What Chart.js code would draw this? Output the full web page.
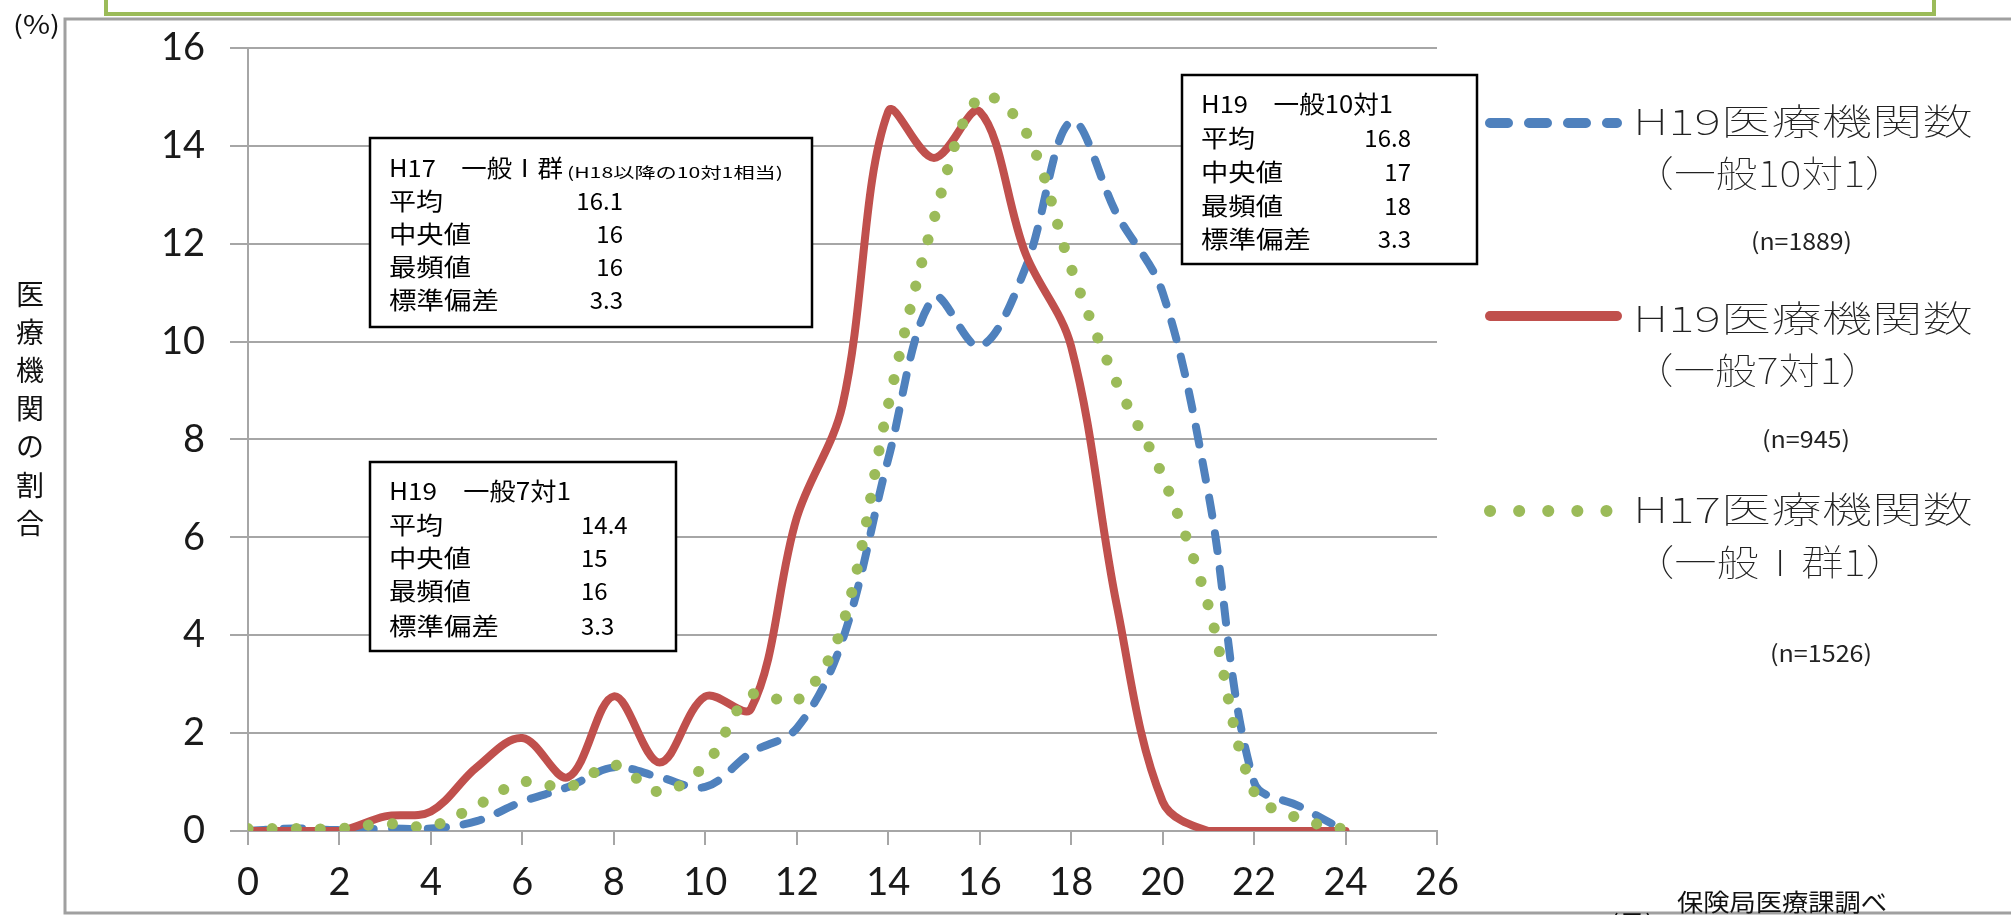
<!DOCTYPE html>
<html>
<head>
<meta charset="utf-8">
<script src="https://cdn.jsdelivr.net/npm/chart.js@4.4.0/dist/chart.umd.min.js"></script>
<style>
  html, body { margin: 0; padding: 0; background: #fff; }
  #wrap { position: relative; width: 2011px; height: 915px; }
</style>
</head>
<body>
<div id="wrap"><canvas id="chart" width="2011" height="915"></canvas></div>
<script>
// 在院日数（x）ごとの医療機関の割合（%）
const days = [0, 1, 2, 3, 4, 5, 6, 7, 8, 9, 10, 11, 12, 13, 14, 15, 16, 17, 18, 19, 20, 21, 22, 23, 24];
const h19Ten = [0, 0.05, 0.02, 0.05, 0.05, 0.2, 0.6, 0.9, 1.3, 1.1, 0.9, 1.6, 2.1, 3.9, 7.6, 10.9, 9.9, 11.5, 14.5, 12.6, 11.0, 6.9, 1.0, 0.5, 0];
const h19Seven = [0, 0, 0, 0.3, 0.4, 1.3, 1.9, 1.1, 2.75, 1.4, 2.75, 2.5, 6.4, 8.7, 14.7, 13.75, 14.7, 11.8, 9.9, 4.6, 0.6, 0, 0, 0, 0];
const h17One = [0.05, 0.05, 0.05, 0.15, 0.1, 0.52, 1.0, 0.9, 1.35, 0.8, 1.35, 2.78, 2.66, 4.2, 8.7, 12.5, 15.0, 14.3, 11.5, 9.15, 7.25, 4.6, 0.8, 0.25, 0.03];

const seriesNames = ['H19医療機関数（一般10対1）', 'H19医療機関数（一般7対1）', 'H17医療機関数（一般Ⅰ群1）'];
const legendTop = ['H19医療機関数', 'H19医療機関数', 'H17医療機関数'];
const legendSub = ['（一般10対1）', '（一般7対1）', '（一般Ⅰ群1）'];
const legendN = ['(n=1889)', '(n=945)', '(n=1526)'];
const colors = ['#4f81bd', '#c0504d', '#9bbb59'];

const statNames = ['平均', '中央値', '最頻値', '標準偏差'];
const statsH17 = ['16.1', '16', '16', '3.3'];
const statsSeven = ['14.4', '15', '16', '3.3'];
const statsTen = ['16.8', '17', '18', '3.3'];

const yTitle = '医療機関の割合';
const CJK = '"Noto Sans CJK JP", "Noto Sans", sans-serif';

function pts(values) {
    return days.map((d, i) => ({ x: d, y: values[i] }));
}

// 横幅を合わせて文字を描く
function fitText(ctx, text, x, y, w, font, align) {
    ctx.save();
    ctx.font = font;
    ctx.textBaseline = 'middle';
    ctx.textAlign = align || 'left';
    const m = ctx.measureText(text).width;
    ctx.translate(x, y);
    if (w) ctx.scale(w / m, 1);
    ctx.fillText(text, 0, 0);
    ctx.restore();
}

const backdrop = {
    id: 'backdrop',
    beforeDraw(chart) {
        const ctx = chart.ctx;
        ctx.save();
        ctx.fillStyle = '#fff';
        ctx.fillRect(0, 0, chart.width, chart.height);
        // 枠
        ctx.strokeStyle = '#a0a0a0';
        ctx.lineWidth = 3;
        ctx.beginPath();
        ctx.moveTo(2011, 19); ctx.lineTo(65, 19); ctx.lineTo(65, 913); ctx.lineTo(2011, 913);
        ctx.stroke();
        // タイトル枠（上が切れている）
        ctx.strokeStyle = '#9bbb59';
        ctx.lineWidth = 4;
        ctx.strokeRect(106, -20, 1828, 34);
        ctx.fillStyle = '#111';
        fitText(ctx, '(%)', 13, 24, 47, '25px ' + CJK);
        ctx.textAlign = 'center';
        ctx.textBaseline = 'middle';
        ctx.font = '28px ' + CJK;
        [...yTitle].forEach((ch, i) => ctx.fillText(ch, 30, 294 + i * 38.2));
        fitText(ctx, '保険局医療課調べ', 1677, 902, 210, '24px ' + CJK);
        fitText(ctx, '(日)', 1610, 923, 44, '24px ' + CJK);
        ctx.restore();
    }
};

function statBox(ctx, box, title, titleW, rows) {
    ctx.save();
    ctx.fillStyle = '#fff';
    ctx.fillRect(box[0], box[1], box[2] - box[0], box[3] - box[1]);
    ctx.strokeStyle = '#000';
    ctx.lineWidth = 2.5;
    ctx.strokeRect(box[0], box[1], box[2] - box[0], box[3] - box[1]);
    ctx.fillStyle = '#000';
    const f = '24px ' + CJK;
    fitText(ctx, title, box[0] + 19, rows[0], titleW, f);
    const labelW = [54, 82, 82, 110];
    statNames.forEach((s, i) => {
        fitText(ctx, s, box[0] + 19, rows[i + 1], labelW[i], f);
    });
    ctx.restore();
}

const annotations = {
    id: 'annotations',
    afterDraw(chart) {
        const ctx = chart.ctx;
        // H17 一般Ⅰ群
        statBox(ctx, [370, 138, 812, 327], 'H17　一般Ⅰ群', 174, [168, 201, 234, 267, 300]);
        ctx.fillStyle = '#000';
        fitText(ctx, '(H18以降の10対1相当)', 567, 172, 216, '15px ' + CJK);
        statsH17.forEach((v, i) => fitText(ctx, v, 623, [201, 234, 267, 300][i], null, '24px ' + CJK, 'right'));
        // H19 一般7対1
        statBox(ctx, [370, 462, 676, 651], 'H19　一般7対1', 182, [491, 525, 558, 591, 626]);
        ctx.fillStyle = '#000';
        statsSeven.forEach((v, i) => fitText(ctx, v, 581, [525, 558, 591, 626][i], null, '24px ' + CJK, 'left'));
        // H19 一般10対1
        statBox(ctx, [1182, 75, 1477, 264], 'H19　一般10対1', 192, [104, 138, 172, 206, 239]);
        ctx.fillStyle = '#000';
        statsTen.forEach((v, i) => fitText(ctx, v, 1411, [138, 172, 206, 239][i], null, '24px ' + CJK, 'right'));

        // 凡例
        const lineY = [123, 316, 511];
        const topY = [121, 318, 509];
        const subY = [173, 370, 562];
        const nY = [241, 439, 653];
        const subW = [275, 251, 276];
        const nX = [1751, 1762, 1770];
        const nW = [101, 88, 102];
        ctx.save();
        ctx.lineCap = 'round';
        for (let i = 0; i < 3; i++) {
            ctx.strokeStyle = colors[i];
            ctx.beginPath();
            if (i === 0) { ctx.lineWidth = 10; ctx.setLineDash([18, 21]); ctx.moveTo(1490, lineY[i]); ctx.lineTo(1617, lineY[i]); }
            if (i === 1) { ctx.lineWidth = 10; ctx.setLineDash([]); ctx.moveTo(1490, lineY[i]); ctx.lineTo(1617, lineY[i]); }
            if (i === 2) { ctx.lineWidth = 12; ctx.setLineDash([0.1, 29]); ctx.moveTo(1490, lineY[i]); ctx.lineTo(1608, lineY[i]); }
            ctx.stroke();
            ctx.fillStyle = '#222';
            fitText(ctx, legendTop[i], 1633, topY[i], 340, '100 36px ' + CJK);
            fitText(ctx, legendSub[i], 1632, subY[i], subW[i], '100 36px ' + CJK);
            fitText(ctx, legendN[i], nX[i], nY[i], nW[i], '23px ' + CJK);
        }
        ctx.restore();
    }
};

const tickFont = { family: 'Lato', size: 38 };
const axisGray = '#a6a6a6';

new Chart(document.getElementById('chart').getContext('2d'), {
    type: 'line',
    data: {
        datasets: [
            { label: seriesNames[0], data: pts(h19Ten), borderColor: colors[0], borderWidth: 8, borderDash: [18, 18], order: 3 },
            { label: seriesNames[1], data: pts(h19Seven), borderColor: colors[1], borderWidth: 8, order: 2 },
            { label: seriesNames[2], data: pts(h17One), borderColor: colors[2], borderWidth: 11, borderDash: [0.1, 24], order: 1 }
        ]
    },
    options: {
        responsive: false,
        animation: false,
        devicePixelRatio: 1,
        layout: { padding: { top: 22, right: 574, left: 0, bottom: 0 } },
        plugins: { legend: { display: false }, tooltip: { enabled: false } },
        elements: {
            point: { radius: 0 },
            line: { tension: 0.35, borderCapStyle: 'round', borderJoinStyle: 'round', fill: false }
        },
        scales: {
            x: {
                type: 'linear', min: 0, max: 26,
                afterFit: s => { s.height = 84; },
                ticks: { stepSize: 2, padding: 15, autoSkip: false, maxRotation: 0, color: '#1a1a1a', font: tickFont },
                grid: { drawOnChartArea: false, tickLength: 14, color: axisGray, lineWidth: 2 },
                border: { color: axisGray, width: 2 }
            },
            y: {
                min: 0, max: 16,
                afterFit: s => { s.width = 248; },
                ticks: { stepSize: 2, padding: 25, color: '#1a1a1a', font: tickFont },
                grid: { tickLength: 18, color: axisGray, lineWidth: 2 },
                border: { color: axisGray, width: 2 }
            }
        }
    },
    plugins: [backdrop, annotations]
});
</script>
</body>
</html>
